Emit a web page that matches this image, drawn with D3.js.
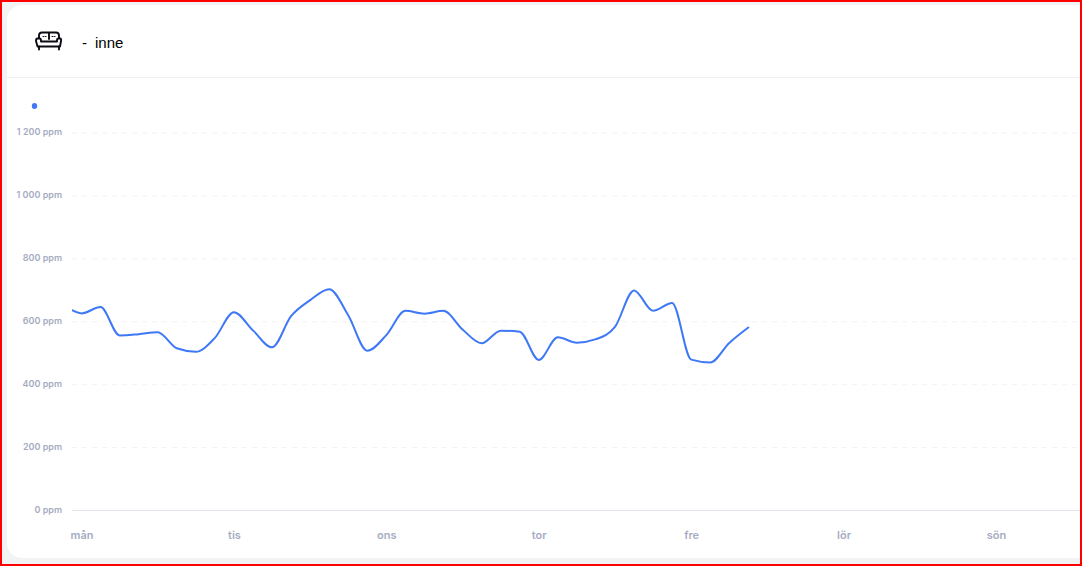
<!DOCTYPE html>
<html lang="sv">
<head>
<meta charset="utf-8">
<script src="https://cdnjs.cloudflare.com/ajax/libs/d3/7.8.5/d3.min.js"></script>
<style>
html,body{margin:0;padding:0;background:#f1f3f5;overflow:hidden}
svg{display:block}
text{font-family:Inter,"Liberation Sans",sans-serif}
</style>
</head>
<body>
<svg id="c" width="1082" height="566"></svg>
<script>
const dayLabels = ["mån","tis","ons","tor","fre","lör","sön"];
const yTicks = [0,200,400,600,800,1000,1200];
const seriesName = "inne";
// hours since the first axis label; 3-hourly readings after a clipped first reading
const hours = [-1.5,0,3,6,9,12,15,18,21,24,27,30,33,36,39,42,45,48,51,54,57,60,63,66,69,72,75,78,81,84,87,90,93,96,99,102,105];
const ppm = [635,625,645,555,559,565,514,503,547,629,571,517,616,667,702,619,506,556,633,624,633,574,530,570,567,477,549,532,543,582,698,633,658,478,469,531,580];
const dayHours = 24;

const W = 1082, H = 566;
const svg = d3.select("#c");
svg.append("rect").attr("width",W).attr("height",H).attr("fill","#f1f3f5");
// card
svg.append("path").attr("fill","#fff")
  .attr("d","M1082 5H22a15 15 0 0 0-15 15V543a15 15 0 0 0 15 15H1082Z");
svg.append("line").attr("x1",7).attr("x2",W).attr("y1",77.5).attr("y2",77.5).attr("stroke","#eef0f3");

// header icon
const ic = svg.append("g").attr("transform","translate(35,31)").attr("fill","none").attr("stroke","#0b0b14").attr("stroke-width",1.9).attr("stroke-linejoin","round").attr("stroke-linecap","round");
ic.append("path").attr("d","M4 7V4.500Q4 1.500 7 1.500H21Q24 1.500 24 4.500V7M14 2V8");
ic.append("path").attr("d","M2.500 7.500H4.500Q6 7.500 6 9.500V10.500H22V9.500Q22 7.500 23.500 7.500H25Q26.500 7.500 26 10L25 15.500H2.500L1 10Q1 7.500 2.500 7.500Z");
ic.append("path").attr("d","M4 15.500V18.500M24 15.500V18.500");
ic.append("path").attr("d","M8 5.500H11M17 5.500H20").attr("stroke-dasharray","1 1.500").attr("stroke-width",1.1);
svg.append("text").attr("x",82).attr("y",47.500).attr("font-size",15).attr("fill","#000").style("font-family","'Liberation Sans',sans-serif").text("-");
svg.append("text").attr("x",95).attr("y",47.500).attr("font-size",15).attr("fill","#000").style("font-family","'Liberation Sans',sans-serif").text(seriesName);

// scales
const x = d3.scaleLinear().domain([0,dayHours*6]).range([81.5,996]);
const y = d3.scaleLinear().domain([0,1200]).range([510,132.5]);
const left = 72;

// y axis
const fmt = v => d3.format(",")(v).replace(",","\u2005") + " ppm";
const ya = svg.append("g").attr("transform",`translate(${left},0)`)
  .call(d3.axisLeft(y).tickValues(yTicks).tickFormat(fmt).tickSize(0).tickPadding(10));
ya.select(".domain").remove();
ya.selectAll("text").attr("fill","#a6acc2").attr("font-size",9).attr("font-weight",600).attr("dy","0.25em").style("font-family","Inter,sans-serif");
ya.selectAll(".tick line").attr("x2",W-left).attr("y1",0).attr("y2",0)
  .attr("stroke",d=>d===0?"#e2e3ee":"#f1f2f4")
  .attr("stroke-dasharray",d=>d===0?null:"5 5");

// x axis
const xa = svg.append("g").attr("transform","translate(0,510)")
  .call(d3.axisBottom(x).tickValues(dayLabels.map((_,i)=>i*dayHours)).tickFormat((_,i)=>dayLabels[i]).tickSize(0).tickPadding(21));
xa.select(".domain").remove();
xa.selectAll("text").attr("fill","#a6acc2").attr("font-size",11).attr("font-weight",600).style("font-family","Inter,sans-serif");

// line
svg.append("clipPath").attr("id","pl").append("rect").attr("x",left).attr("y",100).attr("width",W-left).attr("height",420);
svg.append("path").datum(hours.map((h,i)=>[h,ppm[i]]))
  .attr("clip-path","url(#pl)")
  .attr("fill","none").attr("stroke","#3f78f6").attr("stroke-width",2).attr("stroke-linecap","round")
  .attr("d",d3.line().x(d=>x(d[0])).y(d=>y(d[1])).curve(d3.curveMonotoneX));

// legend dot
svg.append("ellipse").attr("cx",34.500).attr("cy",106).attr("rx",2.700).attr("ry",3).attr("fill","#3f78f6");

// red frame
svg.append("rect").attr("x",1).attr("y",1).attr("width",W-2).attr("height",H-2).attr("fill","none").attr("stroke","#ff0000").attr("stroke-width",2);
</script>
</body>
</html>
